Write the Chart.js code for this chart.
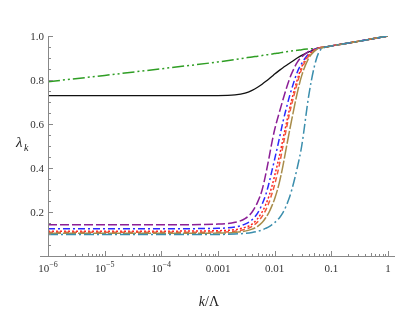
<!DOCTYPE html>
<html>
<head>
<meta charset="utf-8">
<script src="https://cdn.jsdelivr.net/npm/chart.js@4/dist/chart.umd.min.js"></script>
<style>
  html, body { margin: 0; padding: 0; background: #fff; }
  #wrap { position: relative; width: 415px; height: 312px; }
</style>
</head>
<body>
<div id="wrap"><canvas id="c" width="415" height="312"></canvas></div>
<script>
// k/Lambda sample positions shared by every curve
const kGrid = [1e-6, 1e-5, 1e-4, 1e-3, 0.002, 0.003, 0.004, 0.005, 0.006, 0.007, 0.008, 0.009, 0.01,
               0.012, 0.014, 0.016, 0.018, 0.02, 0.025, 0.03, 0.04, 0.05, 0.06, 0.08, 0.1, 0.2, 0.5, 1];

const lamGreen  = [0.792, 0.821, 0.851, 0.882, 0.893, 0.900, 0.905, 0.908, 0.911, 0.914, 0.916, 0.918, 0.920,
                   0.923, 0.926, 0.928, 0.930, 0.932, 0.935, 0.938, 0.941, 0.943, 0.945, 0.950, 0.955, 0.968, 0.986, 1.0];
const lamBlack  = [0.729, 0.729, 0.729, 0.729, 0.732, 0.740, 0.753, 0.767, 0.781, 0.794, 0.806, 0.817, 0.827,
                   0.843, 0.856, 0.866, 0.875, 0.883, 0.900, 0.912, 0.928, 0.938, 0.946, 0.950, 0.955, 0.968, 0.986, 1.0];
const lamPurple = [0.142, 0.142, 0.142, 0.145, 0.153, 0.170, 0.200, 0.245, 0.300, 0.375, 0.450, 0.520, 0.575,
                   0.650, 0.710, 0.760, 0.800, 0.830, 0.880, 0.905, 0.930, 0.940, 0.946, 0.950, 0.955, 0.968, 0.986, 1.0];
const lamBlue   = [0.124, 0.124, 0.124, 0.126, 0.132, 0.145, 0.165, 0.195, 0.235, 0.280, 0.335, 0.390, 0.440,
                   0.530, 0.610, 0.670, 0.720, 0.760, 0.835, 0.875, 0.920, 0.937, 0.946, 0.950, 0.955, 0.968, 0.986, 1.0];
const lamRedDot = [0.113, 0.113, 0.113, 0.115, 0.120, 0.130, 0.145, 0.170, 0.200, 0.235, 0.275, 0.320, 0.365,
                   0.450, 0.530, 0.600, 0.660, 0.710, 0.800, 0.860, 0.915, 0.935, 0.946, 0.950, 0.955, 0.968, 0.986, 1.0];
const lamRedDash= [0.108, 0.108, 0.108, 0.109, 0.113, 0.121, 0.135, 0.155, 0.180, 0.210, 0.245, 0.285, 0.325,
                   0.410, 0.500, 0.575, 0.640, 0.690, 0.785, 0.850, 0.910, 0.933, 0.946, 0.950, 0.955, 0.968, 0.986, 1.0];
const lamOlive  = [0.103, 0.103, 0.103, 0.104, 0.107, 0.113, 0.122, 0.135, 0.152, 0.175, 0.200, 0.230, 0.260,
                   0.330, 0.410, 0.490, 0.560, 0.620, 0.740, 0.820, 0.900, 0.930, 0.945, 0.950, 0.955, 0.968, 0.986, 1.0];
const lamTeal   = [0.098, 0.098, 0.098, 0.098, 0.100, 0.103, 0.107, 0.112, 0.118, 0.126, 0.134, 0.143, 0.152,
                   0.172, 0.197, 0.228, 0.262, 0.300, 0.400, 0.500, 0.730, 0.860, 0.925, 0.950, 0.955, 0.968, 0.986, 1.0];

// axis ticks
const xMajor = [1e-6, 1e-5, 1e-4, 1e-3, 0.01, 0.1, 1];
const xMajorBase = ['10', '10', '10', '0.001', '0.01', '0.1', '1'];
const xMajorExp  = ['\u22126', '\u22125', '\u22124', '', '', '', ''];
const yMajor = [0.2, 0.4, 0.6, 0.8, 1.0];
const yLabels = ['0.2', '0.4', '0.6', '0.8', '1.0'];

const pts = arr => arr.map((v, i) => ({x: kGrid[i], y: v}));

function series(data, color, dash, width){
  return {
    data: pts(data), borderColor: color, borderDash: dash, borderWidth: width || 1.5,
    pointRadius: 0, fill: false, cubicInterpolationMode: 'monotone'
  };
}

const axesPlugin = {
  id: 'mmaAxes',
  afterDraw(chart){
    const ctx = chart.ctx;
    const xs = chart.scales.x, ys = chart.scales.y;
    const x0 = xs.getPixelForValue(1e-6), yb = ys.getPixelForValue(0);
    ctx.save();
    ctx.strokeStyle = '#888'; ctx.lineWidth = 1;
    // axis lines
    ctx.beginPath();
    ctx.moveTo(x0 - 8, yb + 0.5); ctx.lineTo(xs.getPixelForValue(1) + 7, yb + 0.5);
    ctx.moveTo(x0 + 0.5, yb); ctx.lineTo(x0 + 0.5, ys.getPixelForValue(1.0));
    ctx.stroke();
    // x ticks
    ctx.beginPath();
    for(let d = -6; d <= 0; d++){
      for(let m = 1; m <= 9; m++){
        const v = m * Math.pow(10, d);
        if(v > 1.0001) break;
        const px = Math.round(xs.getPixelForValue(v)) + 0.5;
        const len = m === 1 ? 5 : (m === 5 ? 3 : 2);
        ctx.moveTo(px, yb); ctx.lineTo(px, yb - len);
      }
    }
    // y ticks
    for(let i = 1; i <= 20; i++){
      const v = i * 0.05;
      const py = Math.round(ys.getPixelForValue(v)) + 0.5;
      const len = (i % 4 === 0) ? 5 : 3;
      ctx.moveTo(x0, py); ctx.lineTo(x0 + len, py);
    }
    ctx.stroke();

    ctx.fillStyle = '#333';
    ctx.textBaseline = 'alphabetic';
    // x labels
    xMajor.forEach((v, i) => {
      const px = xs.getPixelForValue(v);
      const base = xMajorBase[i], ex = xMajorExp[i];
      ctx.font = '11px "Liberation Serif", serif';
      const wb = ctx.measureText(base).width;
      ctx.font = '8px "Liberation Serif", serif';
      const we = ex ? ctx.measureText(ex).width : 0;
      const left = px - (wb + we) / 2;
      ctx.font = '11px "Liberation Serif", serif';
      ctx.textAlign = 'left';
      ctx.fillText(base, left, yb + 16);
      if(ex){
        ctx.font = '8px "Liberation Serif", serif';
        ctx.fillText(ex, left + wb, yb + 11);
      }
    });
    // y labels
    ctx.font = '11px "Liberation Serif", serif';
    ctx.textAlign = 'right';
    yMajor.forEach((v, i) => {
      ctx.fillText(yLabels[i], x0 - 4, ys.getPixelForValue(v) + 4);
    });
    // axis titles
    ctx.fillStyle = '#222';
    ctx.textAlign = 'left';
    ctx.font = 'italic 14px "Liberation Serif", serif';
    const wk = ctx.measureText('k').width;
    ctx.font = '14px "Liberation Serif", serif';
    const wr = ctx.measureText('/\u039B').width;
    const tx = 209 - (wk + wr) / 2;
    ctx.font = 'italic 14px "Liberation Serif", serif';
    ctx.fillText('k', tx, 306);
    ctx.font = '14px "Liberation Serif", serif';
    ctx.fillText('/\u039B', tx + wk, 306);

    ctx.font = 'italic 15px "Liberation Serif", serif';
    ctx.fillText('\u03BB', 16, 147);
    ctx.font = 'italic 10px "Liberation Serif", serif';
    ctx.fillText('k', 24, 151);
    ctx.restore();
  }
};

new Chart(document.getElementById('c'), {
  type: 'line',
  data: {
    datasets: [
      series(lamTeal,    '#3b8ead', [10, 3, 2, 3]),
      series(lamOlive,   '#a88c4a', [13, 2]),
      series(lamRedDash, '#ef5a3a', [5, 3]),
      series(lamRedDot,  '#ff2222', [2, 2]),
      series(lamBlue,    '#2a2aff', [7, 3, 2, 3]),
      series(lamPurple,  '#8b1e96', [9, 3]),
      series(lamBlack,   '#111111', [], 1.3),
      series(lamGreen,   '#2f9e24', [12, 3, 2, 3, 2, 3])
    ]
  },
  options: {
    responsive: false,
    animation: false,
    layout: { padding: { left: 48, right: 27, top: 36, bottom: 56 } },
    plugins: { legend: { display: false }, tooltip: { enabled: false } },
    scales: {
      x: { type: 'logarithmic', min: 1e-6, max: 1, display: false },
      y: { type: 'linear', min: 0, max: 1, display: false }
    },
    elements: { line: { borderCapStyle: 'butt' } }
  },
  plugins: [axesPlugin]
});
</script>
</body>
</html>
